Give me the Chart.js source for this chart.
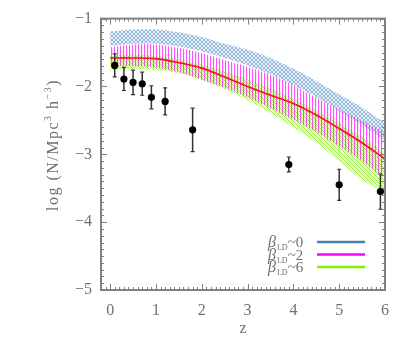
<!DOCTYPE html>
<html>
<head>
<meta charset="utf-8">
<script src="https://cdn.jsdelivr.net/npm/chart.js@4.4.1/dist/chart.umd.min.js"></script>
<style>
  html, body { margin: 0; padding: 0; background: #fff; }
  #c { display: block; }
</style>
</head>
<body>
<canvas id="c" width="415" height="346"></canvas>
<script>
// ---------------- data ----------------
const zGrid       = [0, 0.5, 1, 1.5, 2, 2.5, 3, 3.5, 4, 4.5, 5, 5.5, 6];
const beta0Upper  = [-1.19, -1.16, -1.16, -1.20, -1.27, -1.37, -1.46, -1.58, -1.74, -1.92, -2.12, -2.31, -2.54];
const beta0Lower  = [-1.40, -1.37, -1.37, -1.41, -1.48, -1.58, -1.69, -1.82, -1.98, -2.16, -2.36, -2.57, -2.80];
const beta2Upper  = [-1.42, -1.38, -1.38, -1.43, -1.51, -1.61, -1.71, -1.83, -1.98, -2.17, -2.34, -2.51, -2.67];
const beta2Lower  = [-1.70, -1.70, -1.72, -1.79, -1.90, -2.02, -2.16, -2.32, -2.49, -2.67, -2.88, -3.10, -3.36];
const beta2Median = [-1.58, -1.58, -1.59, -1.65, -1.73, -1.86, -2.00, -2.13, -2.25, -2.42, -2.62, -2.83, -3.07];
const beta6Upper  = [-1.55, -1.53, -1.55, -1.60, -1.68, -1.78, -1.90, -2.03, -2.18, -2.35, -2.54, -2.75, -2.98];
const beta6Lower  = [-1.76, -1.74, -1.76, -1.80, -1.90, -2.04, -2.20, -2.39, -2.60, -2.83, -3.10, -3.38, -3.56];

const obsZ    = [0.1, 0.3, 0.5, 0.7, 0.9, 1.2, 1.8, 3.9, 5.0, 5.9];
const obsLogN = [-1.69, -1.89, -1.94, -1.96, -2.16, -2.22, -2.64, -3.15, -3.45, -3.55];
const obsErr  = [0.17, 0.17, 0.18, 0.17, 0.17, 0.20, 0.32, 0.11, 0.23, 0.26];

const xTicks = [0, 1, 2, 3, 4, 5, 6];
const xTickLabels = ['0', '1', '2', '3', '4', '5', '6'];
const yTicks = [-5, -4, -3, -2, -1];
const yTickLabels = ['\u22125', '\u22124', '\u22123', '\u22122', '\u22121'];
const legendValues = ['0', '2', '6'];
const legendColors = ['#4a80b4', '#ff00ff', '#80f000'];

// ---------------- hatch patterns ----------------
function makePattern(w, h, draw) {
  const cv = document.createElement('canvas');
  cv.width = w; cv.height = h;
  const g = cv.getContext('2d');
  draw(g, w, h);
  return g.createPattern(cv, 'repeat');
}
const bluePattern = makePattern(4, 4, (g) => {
  g.fillStyle = 'rgba(200,220,240,0.45)'; g.fillRect(0, 0, 4, 4);
  g.fillStyle = 'rgba(115,165,212,0.7)';
  for (let i = 0; i < 4; i++) { g.fillRect(i, i, 1, 1); g.fillRect(3 - i, i, 1, 1); }
});
const pinkPattern = makePattern(3, 1, (g) => {
  g.fillStyle = 'rgba(255,40,255,0.8)'; g.fillRect(0, 0, 1, 1);
  g.fillStyle = 'rgba(255,170,255,0.3)'; g.fillRect(1, 0, 1, 1);
});
const greenPattern = makePattern(4, 4, (g) => {
  g.fillStyle = 'rgba(215,250,170,0.35)'; g.fillRect(0, 0, 4, 4);
  g.fillStyle = 'rgba(140,230,40,0.8)';
  for (let i = 0; i < 4; i++) { g.fillRect(i, i, 1, 1); }
  g.fillStyle = 'rgba(180,240,110,0.45)';
  for (let i = 0; i < 4; i++) { g.fillRect((i + 2) % 4, i, 1, 1); }
});

const toXY = (ys) => zGrid.map((z, i) => ({ x: z, y: ys[i] }));

const errData = [];
obsZ.forEach((z, i) => {
  errData.push({ x: z, y: obsLogN[i] - obsErr[i] });
  errData.push({ x: z, y: obsLogN[i] + obsErr[i] });
  errData.push({ x: z, y: null });
});

const FONT = "'Liberation Serif', 'DejaVu Serif', serif";
const TXT = '#707070';

const band = (data, fill, bg, order) => ({
  type: 'line', data, fill, backgroundColor: bg, borderWidth: 0, borderColor: 'rgba(0,0,0,0)',
  pointRadius: 0, tension: 0.3, order
});

// ---------------- decorations ----------------
const decor = {
  id: 'decor',
  afterDraw(chart) {
    const { ctx, chartArea: a, scales: { x, y } } = chart;
    ctx.save();
    ctx.strokeStyle = '#808080';
    ctx.lineWidth = 1;
    ctx.beginPath();
    for (let k = -2; k <= 60; k++) {
      const px = Math.round(x.getPixelForValue(k / 10)) + 0.5;
      const len = (k % 10 === 0) ? 6 : 3;
      ctx.moveTo(px, a.bottom); ctx.lineTo(px, a.bottom - len);
      ctx.moveTo(px, a.top); ctx.lineTo(px, a.top + len);
    }
    for (let k = -50; k <= -10; k++) {
      const py = Math.round(y.getPixelForValue(k / 10)) + 0.5;
      const len = (k % 10 === 0) ? 6 : 3;
      ctx.moveTo(a.left, py); ctx.lineTo(a.left + len, py);
      ctx.moveTo(a.right, py); ctx.lineTo(a.right - len, py);
    }
    ctx.stroke();
    ctx.lineWidth = 2;
    ctx.strokeRect(a.left, a.top, a.right - a.left, a.bottom - a.top);

    // y-axis title with superscripts
    ctx.fillStyle = TXT;
    ctx.translate(53, 145);
    ctx.rotate(-Math.PI / 2);
    const parts = [
      ['log (N/Mpc', 16, 0], ['3', 10, -7], [' h', 16, 0], ['\u22123', 10, -7], [')', 16, 0]
    ];
    ctx.letterSpacing = '1.5px';
    let total = 0;
    parts.forEach(p => { ctx.font = p[1] + 'px ' + FONT; total += ctx.measureText(p[0]).width; });
    let cx = -total / 2;
    ctx.textBaseline = 'alphabetic';
    ctx.textAlign = 'left';
    parts.forEach(p => {
      ctx.font = p[1] + 'px ' + FONT;
      ctx.fillText(p[0], cx, 5 + p[2]);
      cx += ctx.measureText(p[0]).width;
    });
    ctx.restore();

    // legend
    ctx.save();
    ctx.fillStyle = TXT;
    ctx.textBaseline = 'alphabetic';
    ctx.textAlign = 'left';
    legendValues.forEach((v, i) => {
      const cy = 242 + 12.5 * i;
      let lx = 268;
      ctx.font = 'italic 16px ' + FONT;
      ctx.fillText('\u03B2', lx, cy + 5);
      lx += ctx.measureText('\u03B2').width + 1;
      ctx.font = '8px ' + FONT;
      ctx.fillText('LD', lx, cy + 8);
      lx += ctx.measureText('LD').width;
      ctx.font = '15px ' + FONT;
      ctx.fillText('~' + v, lx, cy + 5);
      ctx.strokeStyle = legendColors[i];
      ctx.lineWidth = 2.5;
      ctx.beginPath();
      ctx.moveTo(317, cy); ctx.lineTo(365, cy);
      ctx.stroke();
    });
    ctx.restore();
  }
};

new Chart(document.getElementById('c'), {
  type: 'line',
  data: {
    datasets: [
      { type: 'scatter', data: obsZ.map((z, i) => ({ x: z, y: obsLogN[i] })), backgroundColor: '#000',
        borderWidth: 0, pointRadius: 3.6, order: 0 },
      { type: 'line', data: errData, borderColor: '#333', borderWidth: 1.5, spanGaps: false,
        pointStyle: 'line', pointRadius: 2, pointBorderColor: '#333', pointBorderWidth: 1.2, fill: false, order: 1 },
      { type: 'line', data: toXY(beta2Median), borderColor: '#ff1010', borderWidth: 1.6, pointRadius: 0,
        tension: 0.3, fill: false, order: 2 },
      band(toXY(beta2Upper), '+1', pinkPattern, 3),
      band(toXY(beta2Lower), false, 'rgba(0,0,0,0)', 3),
      band(toXY(beta6Upper), '+1', greenPattern, 4),
      band(toXY(beta6Lower), false, 'rgba(0,0,0,0)', 4),
      band(toXY(beta0Upper), '+1', bluePattern, 5),
      band(toXY(beta0Lower), false, 'rgba(0,0,0,0)', 5)
    ]
  },
  options: {
    responsive: false,
    animation: false,
    events: [],
    layout: { padding: { left: 0, top: 16, right: 30, bottom: 0 } },
    plugins: { legend: { display: false }, tooltip: { enabled: false } },
    scales: {
      x: {
        type: 'linear', min: -0.2, max: 6,
        afterFit: (s) => { s.height = 56; },
        afterBuildTicks: (s) => { s.ticks = xTicks.map(v => ({ value: v })); },
        grid: { display: false, drawTicks: false },
        border: { display: false },
        ticks: { padding: 11, color: TXT, font: { family: FONT, size: 16 },
                 callback: (v) => xTickLabels[xTicks.indexOf(v)] ?? '' },
        title: { display: true, text: 'z', color: TXT, font: { family: FONT, size: 16 },
                 padding: { top: 0, bottom: 8 } }
      },
      y: {
        type: 'linear', min: -5, max: -1,
        afterFit: (s) => { s.width = 101; },
        afterBuildTicks: (s) => { s.ticks = yTicks.map(v => ({ value: v })); },
        grid: { display: false, drawTicks: false },
        border: { display: false },
        ticks: { padding: 9, color: TXT, font: { family: FONT, size: 16 },
                 callback: (v) => yTickLabels[yTicks.indexOf(v)] ?? '' }
      }
    }
  },
  plugins: [decor]
});
</script>
</body>
</html>
